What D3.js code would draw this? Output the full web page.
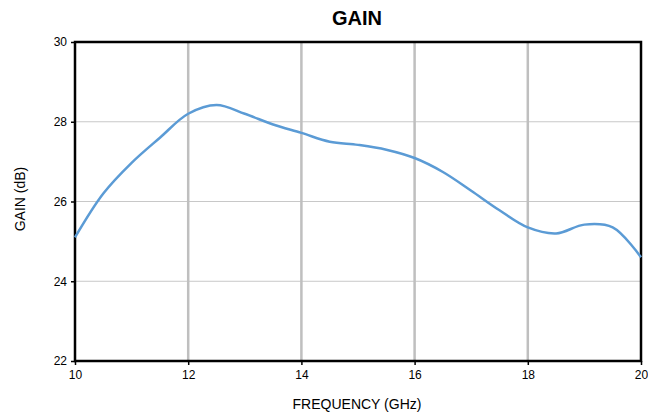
<!DOCTYPE html>
<html><head><meta charset="utf-8">
<script src="https://cdn.jsdelivr.net/npm/d3@7"></script>
<style>body{margin:0;background:#fff;}svg{display:block;font-family:"Liberation Sans",Arial,sans-serif;}</style>
</head><body>
<svg id="c" width="648" height="415"></svg>
<script>
const freq = [10, 10.5, 11, 11.5, 12, 12.5, 13, 13.5, 14, 14.5, 15, 15.5, 16, 16.5, 17, 17.5, 18, 18.5, 19, 19.5, 20];
const gain = [25.1, 26.2, 26.97, 27.6, 28.2, 28.42, 28.2, 27.93, 27.72, 27.5, 27.42, 27.3, 27.09, 26.74, 26.27, 25.78, 25.35, 25.2, 25.42, 25.35, 24.6];
const xTicks = [10, 12, 14, 16, 18, 20];
const yTicks = [22, 24, 26, 28, 30];

const svg = d3.select("#c");
const m = {l:75, r:641, t:42, b:361};
const x = d3.scaleLinear().domain([10,20]).range([m.l, m.r]);
const y = d3.scaleLinear().domain([22,30]).range([m.b, m.t]);

// gridlines
svg.append("g").selectAll("line").data(yTicks.filter(d=>d>22&&d<30)).join("line")
  .attr("x1", m.l).attr("x2", m.r).attr("y1", d=>y(d)).attr("y2", d=>y(d))
  .attr("stroke", "#c8c8c8").attr("stroke-width", 1);
svg.append("g").selectAll("line").data(xTicks.filter(d=>d>10&&d<20)).join("line")
  .attr("x1", d=>x(d)).attr("x2", d=>x(d)).attr("y1", m.t).attr("y2", m.b)
  .attr("stroke", "#bfbfbf").attr("stroke-width", 2.5);

// axes
const yAxis = svg.append("g").attr("transform", `translate(${m.l},0)`)
  .call(d3.axisLeft(y).tickValues(yTicks).tickSize(4).tickFormat(d3.format("d")));
const xAxis = svg.append("g").attr("transform", `translate(0,${m.b})`)
  .call(d3.axisBottom(x).tickValues(xTicks).tickSize(4).tickFormat(d3.format("d")));
[yAxis, xAxis].forEach(a => {
  a.select(".domain").remove();
  a.selectAll(".tick line").attr("stroke", "#000").attr("stroke-width", 1.5);
  a.selectAll("text").attr("fill", "#000").style("font-size", "12px").style("font-family", '"Liberation Sans",Arial,sans-serif');
});
yAxis.selectAll("text").attr("x", -8);
xAxis.selectAll("text").attr("y", 9);

// frame
svg.append("rect").attr("x", m.l).attr("y", m.t).attr("width", m.r-m.l).attr("height", m.b-m.t)
  .attr("fill", "none").attr("stroke", "#000").attr("stroke-width", 2.5);

// line
const pts = freq.map((f,i)=>[f, gain[i]]);
svg.append("path").datum(pts)
  .attr("d", d3.line().x(d=>x(d[0])).y(d=>y(d[1])).curve(d3.curveCatmullRom.alpha(0.5)))
  .attr("fill", "none").attr("stroke", "#5b9bd5").attr("stroke-width", 2.5);

// titles
svg.append("text").attr("x", 357).attr("y", 25).attr("text-anchor", "middle")
  .style("font-size", "20px").style("font-weight", "bold").text("GAIN");
svg.append("text").attr("x", 357).attr("y", 409).attr("text-anchor", "middle")
  .style("font-size", "14px").text("FREQUENCY (GHz)");
svg.append("text").attr("transform", "translate(25,199) rotate(-90)").attr("text-anchor", "middle")
  .style("font-size", "14px").text("GAIN (dB)");
</script>
</body></html>
